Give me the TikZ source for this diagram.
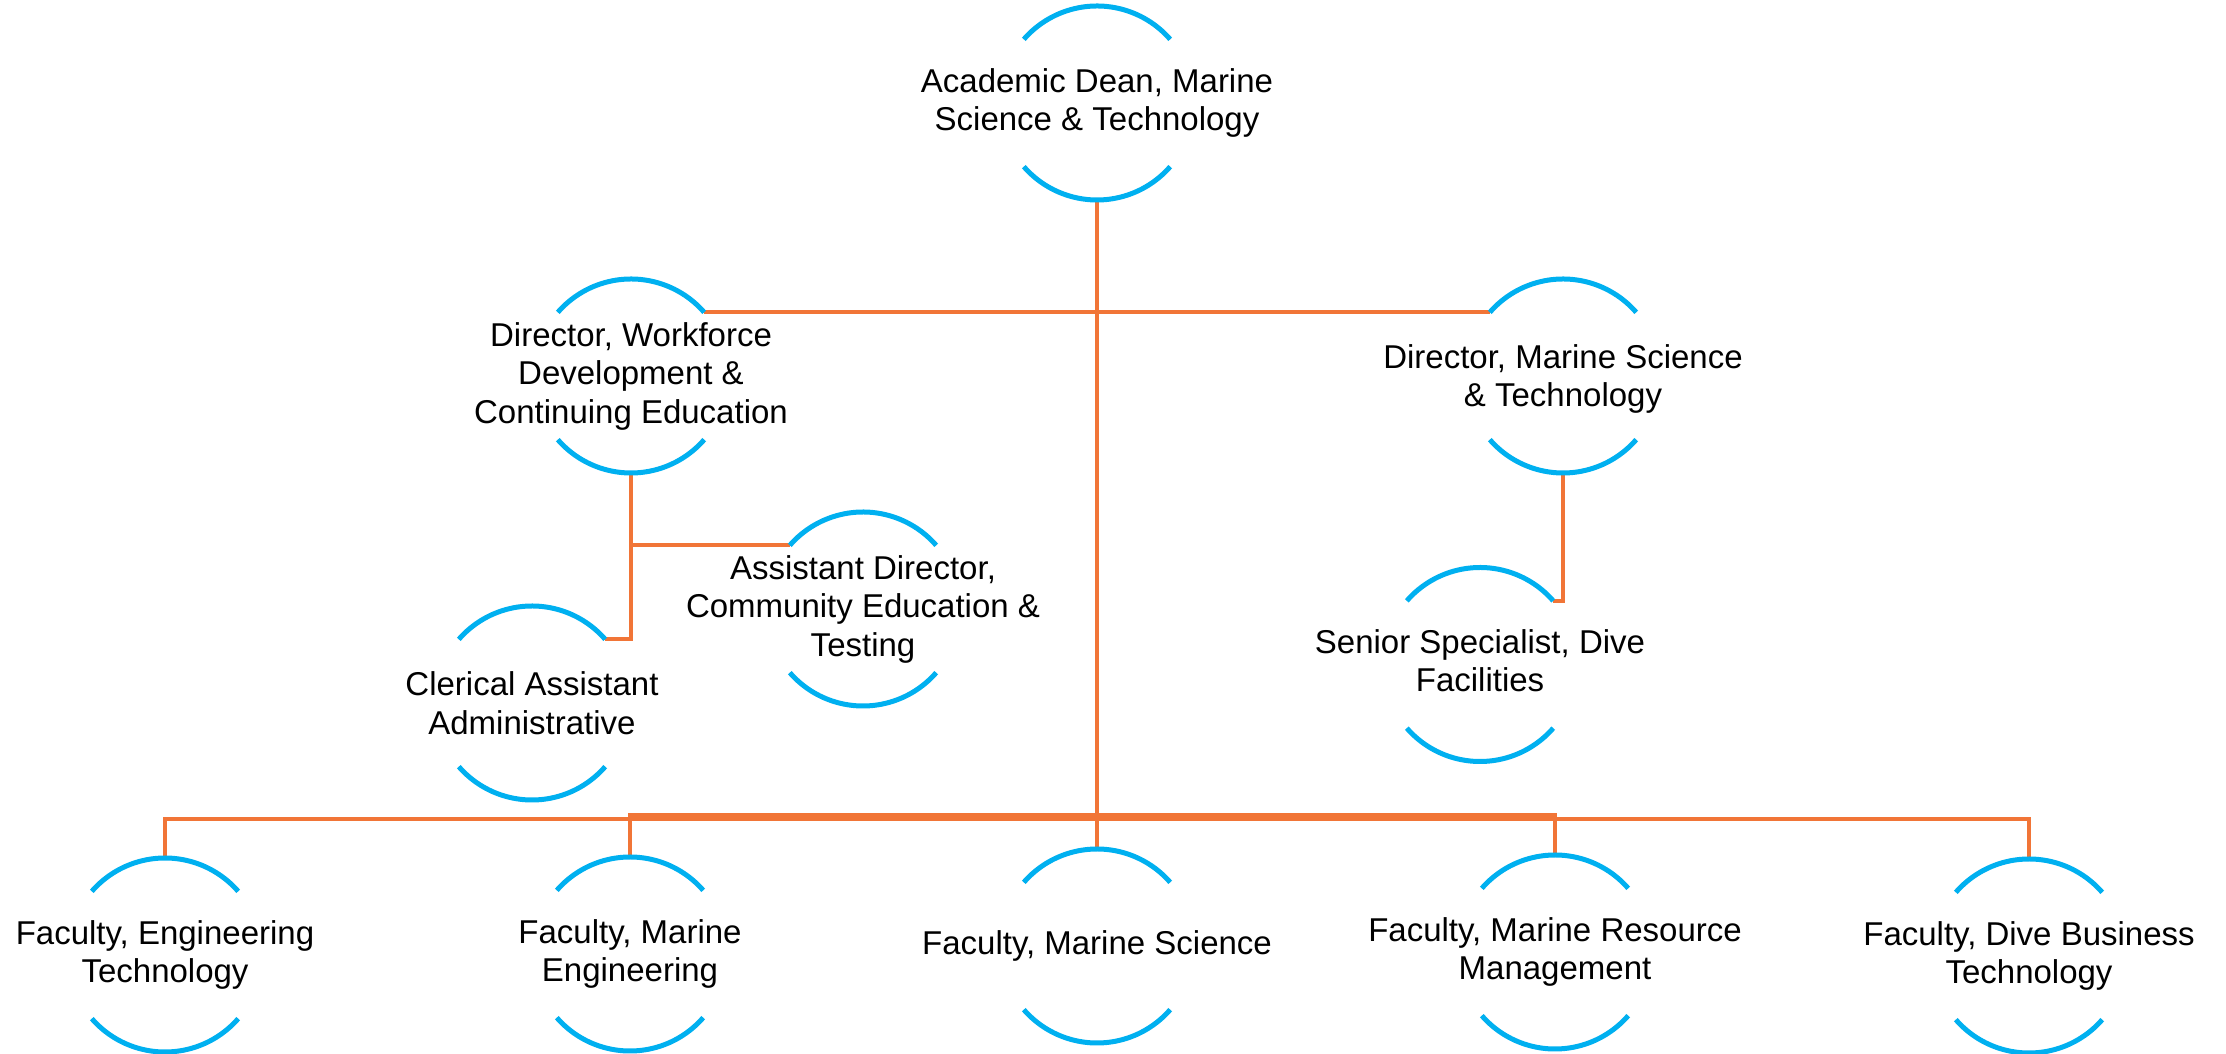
\documentclass[tikz,border=0pt]{standalone}
\usepackage{fontspec}
\setmainfont{Liberation Sans}
\usetikzlibrary{backgrounds}
\definecolor{ringblue}{RGB}{0,176,240}
\definecolor{linkorange}{RGB}{241,117,55}
\tikzset{
  ring/.style={circle, minimum size=194pt, inner sep=0pt, outer sep=0pt},
  lbl/.style={align=center, font=\fontsize{33}{38.5}\selectfont, text=black, inner sep=0pt},
  arcline/.style={draw=ringblue, line width=5pt},
  link/.style={draw=linkorange, line width=4pt},
}
\newcommand\orgunit[4][]{%
  \node[ring] (#2) at (#3) {};
  \node[lbl,#1] (#2-t) at (#2) {#4};
  \draw[arcline] (#2.41) arc[start angle=41,end angle=139,radius=97pt];
  \draw[arcline] (#2.221) arc[start angle=221,end angle=319,radius=97pt];
}
\begin{document}
\begin{tikzpicture}[x=1pt,y=1pt]
\useasboundingbox (0,0) rectangle (2226,1054);

\orgunit{dean}{1097,951}{Academic Dean, Marine\\Science \& Technology}
\orgunit{dwf}{631,678}{Director, Workforce\\Development \&\\Continuing Education}
\orgunit[yshift=-3pt]{dmst}{1563,678}{Director, Marine Science\\\& Technology}
\orgunit{ad}{863,445}{Assistant Director,\\Community Education \&\\Testing}
\orgunit{cl}{532,351}{Clerical Assistant\\Administrative}
\orgunit[yshift=4pt]{sss}{1480,389.5}{Senior Specialist, Dive\\Facilities}
\orgunit{f1}{165,99}{Faculty, Engineering\\Technology}
\orgunit{f2}{630,100}{Faculty, Marine\\Engineering}
\orgunit{f3}{1097,108}{Faculty, Marine Science}
\orgunit{f4}{1555,102}{Faculty, Marine Resource\\Management}
\orgunit{f5}{2029,98}{Faculty, Dive Business\\Technology}

\coordinate (busA) at (1097,234.5);
\coordinate (busB) at (1097,238.5);

\begin{scope}[on background layer]
  \fill[white] (0,0) rectangle (2226,1054);
  \draw[link] (dean.south) |- (dwf.41);
  \draw[link] (dean.south) |- (dmst.139);
  \draw[link] (dwf.south) |- (ad.139);
  \draw[link] (dwf.south) |- (cl.41);
  \draw[link] (dmst.south) |- (sss.41);
  \draw[link] (dean.south) -- (busA) -| (f1.north);
  \draw[link] (dean.south) -- (busB) -| (f2.north);
  \draw[link] (dean.south) -- (f3.north);
  \draw[link] (dean.south) -- (busB) -| (f4.north);
  \draw[link] (dean.south) -- (busA) -| (f5.north);
\end{scope}
\end{tikzpicture}
\end{document}
